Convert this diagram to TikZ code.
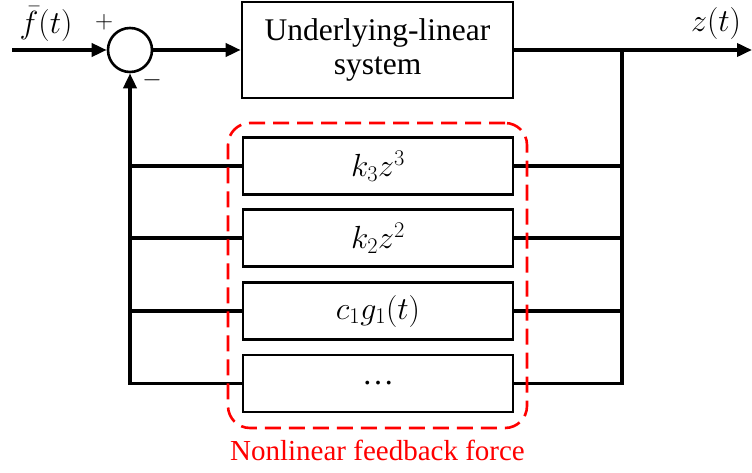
\RequirePackage{fix-cm}
\documentclass[tikz,border=0pt]{standalone}
\usepackage{fontspec}
\setmainfont{Liberation Serif}
\usetikzlibrary{arrows.meta,calc}
\begin{document}
\begin{tikzpicture}[x=1pt,y=-1pt,
  textfont/.style={font=\fontsize{31.5}{34}\selectfont},
  mathfont/.style={font=\fontsize{32}{35}\selectfont},
  labelfont/.style={font=\fontsize{29}{32}\selectfont},
  wire/.style={line width=3.6pt},
  arr/.style={wire,-{Triangle[length=15pt,width=13pt]}},
  blockbox/.style={draw,line width=2.6pt,minimum width=270pt,minimum height=57pt,inner sep=0pt,mathfont},
  nlframe/.style={draw=red,line width=2.6pt,dash pattern=on 16pt off 8pt,rounded corners=22pt,minimum width=299pt,minimum height=305pt,inner sep=0pt},
  sign/.style={font=\fontsize{25}{27}\selectfont,inner sep=0pt}]
\useasboundingbox (0,0) rectangle (752,473);

% summing junction and forward path
\node[draw,circle,line width=2.6pt,minimum size=44pt,inner sep=0pt] (sum) at (130,50) {};
\node[draw,line width=2.6pt,minimum width=271pt,minimum height=96pt,align=center,textfont,inner sep=0pt] (sys) at (377.5,50)
  {Underlying-linear\\system};
\coordinate (in) at (12,50);
\coordinate (out) at (752,50);
\coordinate (br) at (622,50);

\draw[arr] (in) -- (sum.west);
\draw[arr] (sum.east) -- (sys.west);
\draw[arr] (sys.east) -- (out);

\node[mathfont] (fin) at (46,24) {$\bar{f}(t)$};
\node[mathfont] (zout) at (716,24) {$z(t)$};
\node[sign] (plus) at (104,22) {$+$};
\node[sign] (minus) at (152,80) {$-$};

% nonlinear feedback blocks
\node[blockbox] (b1) at (378,166) {$k_3z^3$};
\node[blockbox] (b2) at (378,238) {$k_2z^2$};
\node[blockbox] (b3) at (378,311) {$c_1g_1(t)$};
\node[blockbox] (b4) at (378,383.5) {\dots};

% output bus on the right
\draw[wire] (br) |- (b4.east);
\draw[wire] (b1.east) -- (b1.east -| br);
\draw[wire] (b2.east) -- (b2.east -| br);
\draw[line width=4.4pt] (b3.east) -- (b3.east -| br);

% feedback bus on the left
\draw[arr] (b4.west) -| (sum.south);
\draw[wire] (b1.west) -- (b1.west -| sum.south);
\draw[wire] (b2.west) -- (b2.west -| sum.south);
\draw[line width=4.4pt] (b3.west) -- (b3.west -| sum.south);

% grouping frame
\node[nlframe] (nl) at (377.5,275.5) {};
\node[labelfont,text=red,anchor=north] (nllabel) at ([yshift=-7pt]nl.south) {Nonlinear feedback force};
\end{tikzpicture}
\end{document}
